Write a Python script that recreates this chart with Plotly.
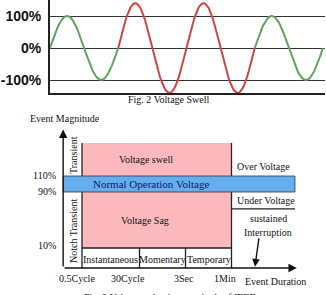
import numpy as np
import plotly.graph_objects as go

W, H = 326, 295

# ---------------- Top chart data: Fig. 2 Voltage Swell ----------------
cycle_amplitude = [100, 140, 140, 100]          # % per cycle
cycle_color = ["#5fa35f", "#cf4545", "#cf4545", "#5fa35f"]
top_ticks = [-100, 0, 100]
top_tick_labels = ["-100%", "0%", "100%"]

# ---------------- Bottom chart data: voltage event classification -------
dur_labels = ["0.5Cycle", "30Cycle", "3Sec", "1Min"]
dur_edges = [0.0, 1.25, 2.25, 3.25]               # schematic duration axis
dur_classes = ["Instantaneous", "Momentary", "Temporary"]
mag_labels = ["10%", "90%", "110%"]
mag_pos = [0.0, 3.5, 4.5]                          # schematic magnitude axis
mag_top = 6.5625
axis_x0, axis_y0 = -0.41, -1.25
x_end, y_end = 4.67, 7.4
band_end = 4.63

fig = go.Figure()

# ---- top wave ----
samples = 80
for i, (amp, col) in enumerate(zip(cycle_amplitude, cycle_color)):
    t = np.linspace(i, i + 1, samples)
    fig.add_trace(go.Scatter(x=t, y=amp * np.sin(2 * np.pi * (t - i)),
                             mode="lines", line=dict(color=col, width=2),
                             hoverinfo="skip", showlegend=False,
                             xaxis="x", yaxis="y"))

# ---- bottom shapes (axis x2/y2) ----
pink = "#fbb9bd"
blue = "#66adf0"
shapes = []
shapes.append(dict(type="rect", xref="x2", yref="y2", x0=dur_edges[0], x1=dur_edges[-1],
                   y0=mag_pos[2], y1=mag_top, fillcolor=pink, line=dict(width=0), layer="below"))
shapes.append(dict(type="rect", xref="x2", yref="y2", x0=dur_edges[0], x1=dur_edges[-1],
                   y0=mag_pos[0], y1=mag_pos[1], fillcolor=pink, line=dict(width=0), layer="below"))
line_k = dict(color="#222", width=1.3)
for xe in (dur_edges[0], dur_edges[-1]):
    shapes.append(dict(type="line", xref="x2", yref="y2", x0=xe, x1=xe,
                       y0=axis_y0, y1=mag_top, line=line_k))
for xe in dur_edges[1:3]:
    shapes.append(dict(type="line", xref="x2", yref="y2", x0=xe, x1=xe,
                       y0=axis_y0, y1=mag_pos[0], line=line_k))
shapes.append(dict(type="line", xref="x2", yref="y2", x0=dur_edges[0], x1=dur_edges[-1],
                   y0=mag_pos[0], y1=mag_pos[0], line=line_k))
shapes.append(dict(type="line", xref="x2", yref="y2", x0=dur_edges[-1], x1=band_end,
                   y0=2.44, y1=2.44, line=line_k))
shapes.append(dict(type="rect", xref="x2", yref="y2", x0=axis_x0, x1=band_end,
                   y0=mag_pos[1], y1=mag_pos[2], fillcolor=blue,
                   line=dict(color="#333", width=0.8)))

serif = "Liberation Serif, Times New Roman, serif"
ann = []
def txt(x, y, s, size=10, color="#111", angle=0, xanchor="center", ref=("x2", "y2")):
    ann.append(dict(x=x, y=y, xref=ref[0], yref=ref[1], text=s, showarrow=False,
                    font=dict(family=serif, size=size, color=color), textangle=angle,
                    xanchor=xanchor, yanchor="middle"))

ann.append(dict(x=axis_x0, y=y_end, ax=axis_x0, ay=axis_y0, xref="x2", yref="y2",
                axref="x2", ayref="y2", showarrow=True, arrowhead=2, arrowsize=1.2,
                arrowwidth=1.4, arrowcolor="#111", text=""))
ann.append(dict(x=x_end, y=axis_y0, ax=axis_x0, ay=axis_y0, xref="x2", yref="y2",
                axref="x2", ayref="y2", showarrow=True, arrowhead=2, arrowsize=1.2,
                arrowwidth=1.4, arrowcolor="#111", text=""))
ann.append(dict(x=3.76, y=axis_y0 + 0.08, ax=3.85, ay=0.7, xref="x2", yref="y2",
                axref="x2", ayref="y2", showarrow=True, arrowhead=2, arrowsize=1.1,
                arrowwidth=1.4, arrowcolor="#111", text=""))

txt(-0.37, 8.1, "Event Magnitude")
txt(1.4, 5.55, "Voltage swell")
txt(1.37, 1.7, "Voltage Sag")
txt(1.5, 4.0, "Normal Operation Voltage", size=11, color="#0d1d5a")
txt(dur_edges[-1] + 0.08, 5.1, "Over Voltage", xanchor="left")
txt(dur_edges[-1] + 0.08, 2.95, "Under Voltage", xanchor="left")
txt(4.06, 1.87, "sustained")
txt(4.04, 1.0, "Interruption")
txt(-0.2, 5.8, "Transient", angle=-90)
txt(-0.2, 1.05, "Notch Transient", angle=-90)
for i, lab in enumerate(dur_classes):
    txt((dur_edges[i] + dur_edges[i + 1]) / 2, -0.72, lab)
for lab, yv in zip(mag_labels, mag_pos):
    txt(-0.52, yv + (0.18 if lab == "10%" else 0.05), lab, xanchor="right")
dur_label_x = [-0.11, 0.99, 2.21, 3.1]
for lab, xv in zip(dur_labels, dur_label_x):
    txt(xv, -1.9, lab)
txt(4.2, -2.07, "Event Duration")

txt(0.517, 0.662, "Fig. 2 Voltage Swell", size=10, ref=("paper", "paper"))
txt(0.52, 0.0, "Fig. 3 Voltage reduction standards of IEEE", size=10, ref=("paper", "paper"))
ann[-1]["yanchor"] = "bottom"
ann[-1]["y"] = -0.035

ux = 46.0
uy = 16.0
x2_range = [-82 / ux, (W - 82) / ux]
y2_range = [-(H - 248) / uy, 248 / uy]

fig.update_layout(
    width=W, height=H, margin=dict(l=0, r=0, t=0, b=0),
    paper_bgcolor="white", plot_bgcolor="rgba(0,0,0,0)",
    showlegend=False, shapes=shapes, annotations=ann,
    xaxis=dict(domain=[50 / W, 325 / W], range=[0, 4.03], showgrid=False,
               zeroline=False, showticklabels=False, ticks="",
               showline=True, linecolor="#222", linewidth=2, fixedrange=True),
    yaxis=dict(domain=[1 - 93 / H, 1], range=[-140.6, 150], tickvals=top_ticks,
               ticktext=["<b>%s</b>" % s for s in top_tick_labels],
               tickfont=dict(family="Liberation Sans", size=14, color="#111"),
               showgrid=True, gridcolor="#333", gridwidth=1.3, zeroline=False,
               showline=True, linecolor="#222", linewidth=2, ticks="",
               ticklabelstandoff=4, fixedrange=True),
    xaxis2=dict(domain=[0, 1], range=x2_range, visible=False, anchor="y2", fixedrange=True),
    yaxis2=dict(domain=[0, 1], range=y2_range, visible=False, anchor="x2", fixedrange=True),
)
fig.write_html("out.html")
